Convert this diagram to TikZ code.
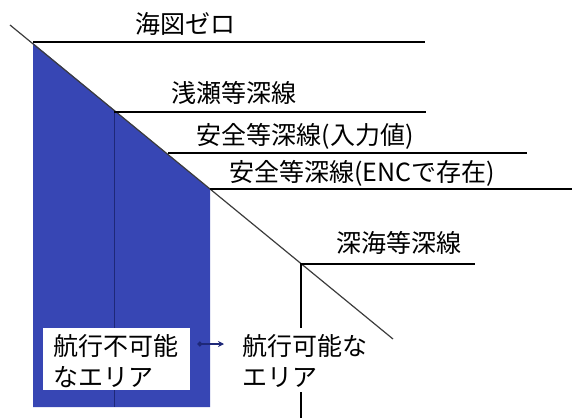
\documentclass[tikz,border=0pt]{standalone}
\usepackage{fontspec}
\setmainfont{Noto Sans CJK JP}
\usetikzlibrary{arrows.meta}
\definecolor{seablue}{RGB}{55,70,180}
\definecolor{navy}{RGB}{30,40,120}
\definecolor{diag}{RGB}{60,60,60}
\begin{document}
\begin{tikzpicture}[x=1pt,y=-1pt,
  lbl/.style={inner sep=0pt,font=\fontsize{25}{31}\selectfont},
  contour/.style={line width=2pt,black},
  slope/.style={line width=1.2pt,diag}]
\useasboundingbox (0,0) rectangle (579,420);
% blue area
\fill[seablue] (33,43) -- (210,189) -- (210,407) -- (33,407) -- cycle;
\draw[navy,line width=0.8pt] (114,111) -- (114,407);
% slope
\coordinate (s0) at (10,25);
\coordinate (s1) at (393,339);
\draw[slope] (s0) -- (s1);
% contour lines
\draw[contour] (33,42) -- (425,42);
\draw[contour] (114,112) -- (426,112);
\draw[contour] (168,153) -- (527,153);
\draw[contour] (210,189) -- (572,189);
\draw[contour] (301,264) -- (475,264);
\draw[contour] (301,263) -- (301,328);
\draw[contour] (301,392) -- (301,418);
% labels
\node[lbl] (t0) at (185,24) {海図ゼロ};
\node[lbl] (t1) at (234,93) {浅瀬等深線};
\node[lbl] (t2) at (305,136) {安全等深線(入力値)};
\node[lbl] (t3) at (362,173) {安全等深線(ENCで存在)};
\node[lbl] (t4) at (399,243) {深海等深線};
\node[fill=white,minimum width=147pt,minimum height=62pt,inner sep=0pt,anchor=north west] (box) at (43,328) {};
\node[lbl,anchor=west,align=left] (ng) at (53,361) {航行不可能\\なエリア};
\node[lbl,anchor=west,align=left] (ok) at (242,361) {航行可能な\\エリア};
\draw[navy,line width=1.6pt,{Circle[length=5pt]}-{Stealth[length=6pt,width=6pt]},shorten <=7pt,shorten >=18pt] (box.east |- 0,344) -- (ok.west |- 0,344);
\end{tikzpicture}
\end{document}
